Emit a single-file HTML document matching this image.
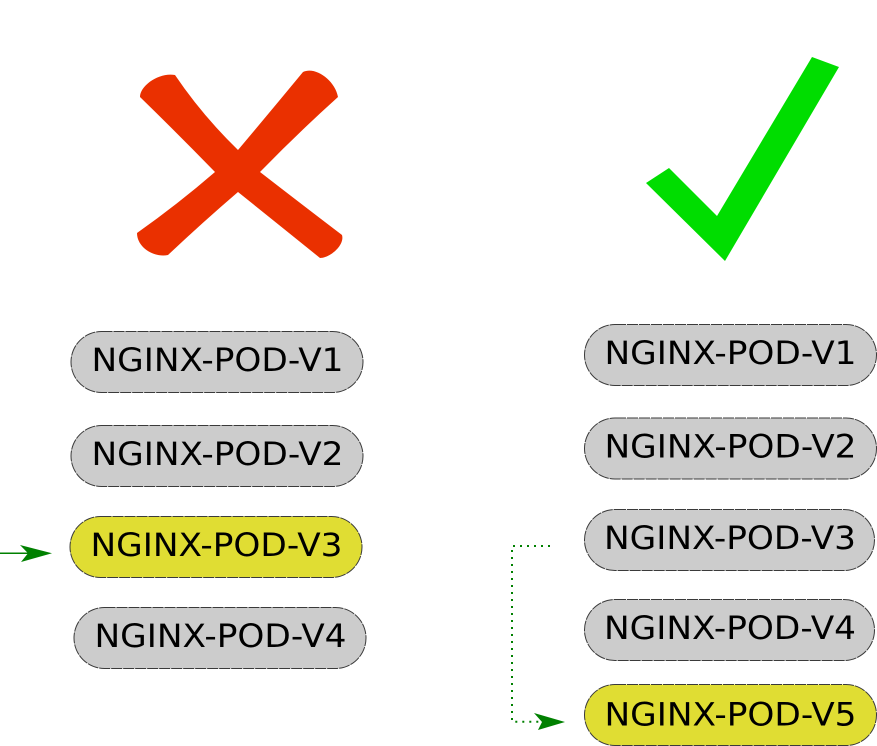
<!DOCTYPE html>
<html>
<head>
<meta charset="utf-8">
<style>
html,body{margin:0;padding:0;background:#fff;}
svg{display:block;}
text{font-family:"DejaVu Sans","Liberation Sans",sans-serif;font-size:32px;fill:#000;}
</style>
</head>
<body>
<svg width="877" height="746" viewBox="0 0 877 746" xmlns="http://www.w3.org/2000/svg">
  <!-- Red X -->
  <path fill="#ea3000" d="M 175,75 Q 202,115 238,150 Q 270,112 303,72 C 315,66 335,80 338,97 Q 298,133 260,172 Q 300,203 342,235 C 345,245 330,258 320,258 Q 278,224 238,192 Q 203,222 168,255 C 155,258 137,248 137,233 Q 178,204 215,172 Q 177,133 140,97 C 140,85 160,72 175,75 Z"/>
  <!-- Green check -->
  <polygon fill="#00dd00" points="812,57 839,67 725,261 646,183 669,168 717,216"/>

  <!-- Pills -->
  <g stroke="#3a3a3a" stroke-width="1" stroke-dasharray="11,1">
    <rect x="71" y="331.5" width="292" height="61" rx="30.5" ry="30.5" fill="#cccccc"/>
    <rect x="71" y="425.5" width="292" height="61" rx="30.5" ry="30.5" fill="#cccccc"/>
    <rect x="70" y="516.5" width="292" height="61" rx="30.5" ry="30.5" fill="#e0dd33"/>
    <rect x="74" y="607.5" width="292" height="61" rx="30.5" ry="30.5" fill="#cccccc"/>
    <rect x="584.5" y="324.5" width="292" height="61" rx="30.5" ry="30.5" fill="#cccccc"/>
    <rect x="584.5" y="418" width="292" height="61" rx="30.5" ry="30.5" fill="#cccccc"/>
    <rect x="584.5" y="509.5" width="290" height="61" rx="30.5" ry="30.5" fill="#cccccc"/>
    <rect x="584.5" y="599.5" width="290" height="61" rx="30.5" ry="30.5" fill="#cccccc"/>
    <rect x="584.5" y="684.5" width="292" height="61" rx="30.5" ry="30.5" fill="#e0dd33"/>
  </g>

  <g text-anchor="middle">
    <text x="217.5" y="371" textLength="252" lengthAdjust="spacingAndGlyphs">NGINX-POD-V1</text>
    <text x="217.5" y="465" textLength="252" lengthAdjust="spacingAndGlyphs">NGINX-POD-V2</text>
    <text x="216.5" y="556" textLength="252" lengthAdjust="spacingAndGlyphs">NGINX-POD-V3</text>
    <text x="220.5" y="647" textLength="252" lengthAdjust="spacingAndGlyphs">NGINX-POD-V4</text>

    <text x="730.5" y="364" textLength="252" lengthAdjust="spacingAndGlyphs">NGINX-POD-V1</text>
    <text x="730.5" y="457.5" textLength="252" lengthAdjust="spacingAndGlyphs">NGINX-POD-V2</text>
    <text x="730" y="549" textLength="252" lengthAdjust="spacingAndGlyphs">NGINX-POD-V3</text>
    <text x="730" y="639" textLength="252" lengthAdjust="spacingAndGlyphs">NGINX-POD-V4</text>
    <text x="730.5" y="725.5" textLength="252" lengthAdjust="spacingAndGlyphs">NGINX-POD-V5</text>
  </g>

  <!-- Left arrow -->
  <line x1="0" y1="553.3" x2="30" y2="553.3" stroke="#008000" stroke-width="1.5"/>
  <polygon fill="#008000" points="20,545 52,553.3 21,562 28,553.3"/>

  <!-- Right dotted connector -->
  <path d="M 550,546 L 512,546 L 512,721.7 L 540,721.7" fill="none" stroke="#008000" stroke-width="2" stroke-dasharray="2,5"/>
  <polygon fill="#008000" points="534,713 565,722 538,730 542,722"/>
</svg>
</body>
</html>
